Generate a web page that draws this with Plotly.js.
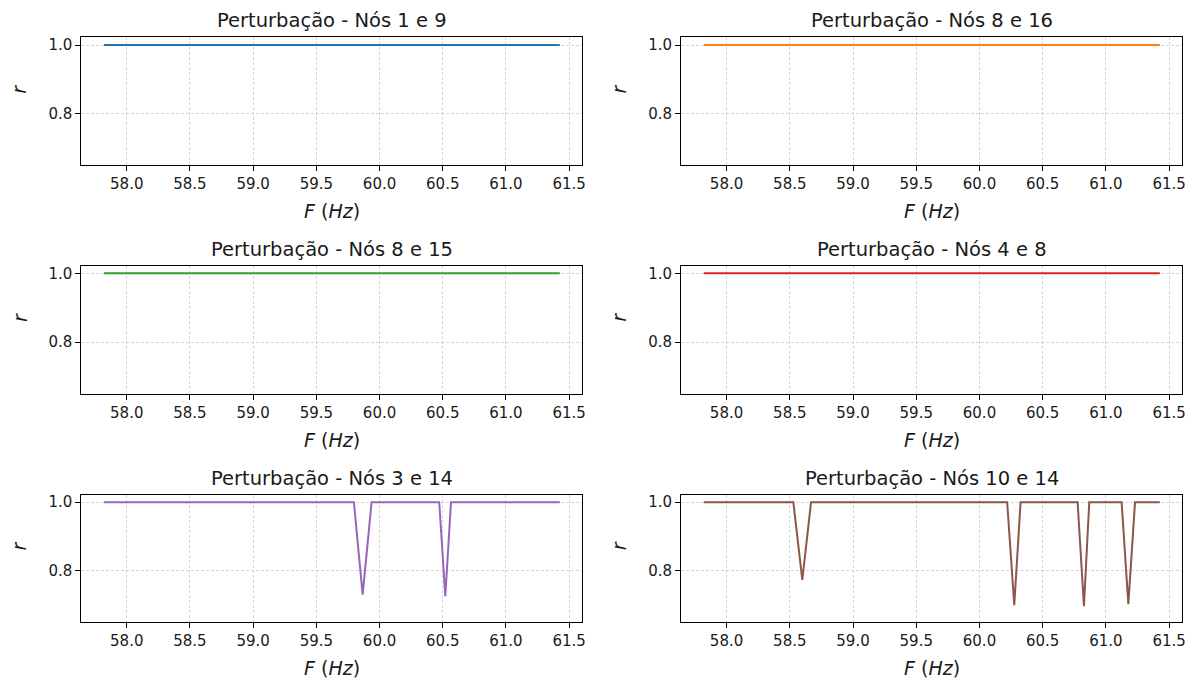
<!DOCTYPE html>
<html>
<head>
<meta charset="utf-8">
<script src="https://cdn.plot.ly/plotly-3.0.1.min.js"></script>
<style>html,body{margin:0;padding:0;background:#fff;}#chart{width:1195px;height:679px;}</style>
</head>
<body>
<div id="chart"></div>
<script>
// ---- data ----
const panelTitles = [
  'Perturbação - Nós 1 e 9',
  'Perturbação - Nós 8 e 16',
  'Perturbação - Nós 8 e 15',
  'Perturbação - Nós 4 e 8',
  'Perturbação - Nós 3 e 14',
  'Perturbação - Nós 10 e 14'
];
const seriesColors = ['#1f77b4', '#ff7f0e', '#2ca02c', '#d62728', '#9467bd', '#8c564b'];

const f_1_9  = [57.82, 61.426];
const r_1_9  = [1.0, 1.0];
const f_8_16 = [57.82, 61.426];
const r_8_16 = [1.0, 1.0];
const f_8_15 = [57.82, 61.426];
const r_8_15 = [1.0, 1.0];
const f_4_8  = [57.82, 61.426];
const r_4_8  = [1.0, 1.0];
const f_3_14 = [57.82, 59.797, 59.866, 59.937, 60.472, 60.520, 60.565, 61.426];
const r_3_14 = [1.0,   1.0,    0.730,  1.0,    1.0,    0.725,  1.0,    1.0];
const f_10_14 = [57.82, 58.528, 58.599, 58.668, 60.219, 60.275, 60.325, 60.776, 60.826, 60.868, 61.124, 61.177, 61.230, 61.426];
const r_10_14 = [1.0,   1.0,    0.773,  1.0,    1.0,    0.699,  1.0,    1.0,    0.696,  1.0,    1.0,    0.702,  1.0,    1.0];

const xTickVals = [58.0, 58.5, 59.0, 59.5, 60.0, 60.5, 61.0, 61.5];
const xTickText = ['58.0', '58.5', '59.0', '59.5', '60.0', '60.5', '61.0', '61.5'];
const yTickVals = [0.8, 1.0];
const yTickText = ['0.8', '1.0'];
const xLabel = '<i>F</i> (<i>Hz</i>)';
const yLabel = '<i>r</i>';

const seriesF = [f_1_9, f_8_16, f_8_15, f_4_8, f_3_14, f_10_14];
const seriesR = [r_1_9, r_8_16, r_8_15, r_4_8, r_3_14, r_10_14];

// ---- layout geometry ----
const colDomains = [[0.0680, 0.4874], [0.5699, 0.9895]];
const rowDomains = [[0.7566, 0.9448], [0.4202, 0.6087], [0.0840, 0.2714]];
const FONT = 'DejaVu Sans';
const INK = '#1a1a1a';

const traces = [];
const layout = {
  width: 1195, height: 679,
  margin: {l: 0, r: 0, t: 0, b: 0},
  paper_bgcolor: '#ffffff', plot_bgcolor: '#ffffff',
  showlegend: false,
  font: {family: FONT, color: INK, size: 15},
  annotations: []
};

for (let i = 0; i < 6; i++) {
  const row = Math.floor(i / 2), col = i % 2;
  const sfx = i === 0 ? '' : String(i + 1);
  traces.push({
    type: 'scatter', mode: 'lines',
    x: seriesF[i], y: seriesR[i],
    xaxis: 'x' + sfx, yaxis: 'y' + sfx,
    line: {color: seriesColors[i], width: 2},
    hoverinfo: 'skip'
  });
  const common = {
    showline: true, linecolor: '#000', linewidth: 1, mirror: true,
    ticks: 'outside', ticklen: 5, tickwidth: 1, tickcolor: '#000',
    showgrid: true, gridcolor: '#c4c4c4', gridwidth: 0.7, griddash: '3px,2px',
    zeroline: false, tickfont: {family: FONT, size: 15, color: INK}
  };
  layout['xaxis' + sfx] = Object.assign({}, common, {
    domain: colDomains[col], anchor: 'y' + sfx,
    range: [57.64, 61.605], tickmode: 'array', tickvals: xTickVals, ticktext: xTickText
  });
  layout['yaxis' + sfx] = Object.assign({}, common, {
    domain: rowDomains[row], anchor: 'x' + sfx,
    range: [0.65, 1.022], tickmode: 'array', tickvals: yTickVals, ticktext: yTickText
  });
  const cx = (colDomains[col][0] + colDomains[col][1]) / 2;
  const cy = (rowDomains[row][0] + rowDomains[row][1]) / 2;
  layout.annotations.push({
    text: panelTitles[i], xref: 'paper', yref: 'paper',
    x: cx, y: rowDomains[row][1], xanchor: 'center', yanchor: 'middle', yshift: 16.5,
    showarrow: false, font: {family: FONT, size: 19.5, color: INK}
  });
  layout.annotations.push({
    text: xLabel, xref: 'paper', yref: 'paper',
    x: cx, y: rowDomains[row][0], xanchor: 'center', yanchor: 'middle', yshift: -46,
    showarrow: false, font: {family: FONT, size: 19, color: INK}
  });
  layout.annotations.push({
    text: yLabel, xref: 'paper', yref: 'paper',
    x: colDomains[col][0], y: cy, xanchor: 'center', yanchor: 'middle', xshift: -62, yshift: 12,
    textangle: -90, showarrow: false, font: {family: FONT, size: 19, color: INK}
  });
}

Plotly.newPlot('chart', traces, layout, {displayModeBar: false, staticPlot: true});
</script>
</body>
</html>
